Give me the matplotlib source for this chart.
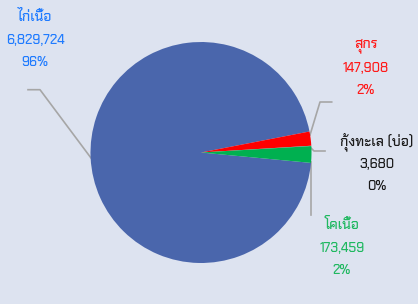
import matplotlib
matplotlib.use('Agg')
import matplotlib.pyplot as plt

# ข้อมูล
names = ['ไก่เนื้อ', 'สุกร', 'กุ้งทะเล (บ่อ)', 'โคเนื้อ']
values = [6829724, 147908, 3680, 173459]
pcts = ['96%', '2%', '0%', '2%']
slice_colors = ['#4a66ac', '#ff0000', '#7f7f7f', '#00b050']
text_colors = ['#1f7bff', '#ff1a1a', '#1a1a1a', '#1fb860']

plt.rcParams['font.family'] = ['Chakra Petch', 'DejaVu Sans']
bg = '#dde3f0'

fig = plt.figure(figsize=(4.18, 3.04), dpi=100, facecolor=bg)
ax = fig.add_axes([0, 0, 1, 1])
ax.set_facecolor(bg)

ax.pie(values, colors=slice_colors, startangle=-5.4, counterclock=False,
       center=(201, 151.5), radius=110.5, frame=True,
       wedgeprops=dict(linewidth=0))
ax.set_xlim(0, 418)
ax.set_ylim(0, 304)
ax.axis('off')

# ตำแหน่งป้าย (พิกเซลจากบนซ้าย)
label_pos = [(35, 17), (366, 46), (377, 142), (342, 225)]
gaps = [0, 23, 45]
for i in range(len(names)):
    x, y = label_pos[i]
    txt = [names[i], f'{values[i]:,}', pcts[i]]
    for k in range(3):
        ax.text(x, 304 - (y + gaps[k]), txt[k], color=text_colors[i],
                fontsize=10 if k == 0 else 9.5, fontweight='medium',
                ha='center', va='center')

# เส้นชี้
leaders = [
    [(28, 89.7), (40, 89.7), (91, 158)],
    [(331.7, 102), (320, 102), (310, 135)],
    [(325, 151), (314, 151), (310, 147)],
    [(311, 162), (311, 215)],
]
for pts in leaders:
    ax.plot([p[0] for p in pts], [304 - p[1] for p in pts],
            color='#a6a6a6', lw=1.2, zorder=0.5)

plt.savefig('out.png', dpi=100, facecolor=bg)
